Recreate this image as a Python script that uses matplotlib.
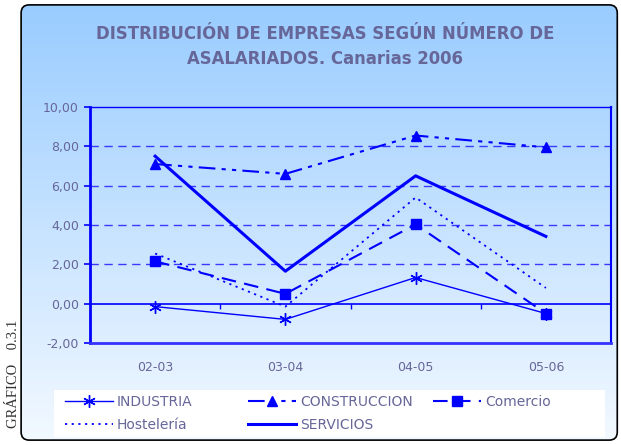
import numpy as np
import matplotlib
matplotlib.use("Agg")
import matplotlib.pyplot as plt
from matplotlib.patches import FancyBboxPatch, Rectangle
from matplotlib.ticker import FuncFormatter

periodos = ["02-03", "03-04", "04-05", "05-06"]
industria = [-0.15, -0.8, 1.33, -0.5]
construccion = [7.1, 6.6, 8.55, 7.95]
comercio = [2.15, 0.5, 4.03, -0.5]
hosteleria = [2.55, -0.15, 5.4, 0.8]
servicios = [7.5, 1.65, 6.5, 3.42]
yticks = [-2, 0, 2, 4, 6, 8, 10]

azul = "#0000ff"
gris = "#666699"

fig = plt.figure(figsize=(6.21, 4.45), dpi=100, facecolor="white")

# fondo con degradado dentro de un marco redondeado
bg = fig.add_axes([0, 0, 1, 1], zorder=0)
bg.set_axis_off()
bg.set_xlim(0, 1)
bg.set_ylim(0, 1)
top = np.array([0.60, 0.80, 1.0])
bot = np.array([0.95, 0.975, 1.0])
t = np.linspace(0, 1, 256)[:, None]
grad = (top * (1 - t) + bot * t)[:, None, :]
img = bg.imshow(grad, extent=[0.034, 0.994, 0.011, 0.989], aspect="auto", origin="upper")
marco = FancyBboxPatch((0.034, 0.011), 0.96, 0.978,
                       boxstyle="round,pad=0,rounding_size=0.013",
                       mutation_aspect=621 / 445,
                       facecolor="none", edgecolor="black", linewidth=1.2)
bg.add_patch(marco)
img.set_clip_path(marco)

# caja blanca de la leyenda
bg.add_patch(Rectangle((54 / 621, 8 / 445), 551 / 621, 47 / 445,
                       facecolor="white", edgecolor="none"))

fig.text(0.523, 0.896, "DISTRIBUCIÓN DE EMPRESAS SEGÚN NÚMERO DE\nASALARIADOS. Canarias 2006",
         ha="center", va="center", fontsize=11.9, fontweight="bold", color=gris,
         linespacing=1.5)
fig.text(0.021, 0.16, "GRÁFICO    0.3.1", rotation=90, ha="center", va="center",
         fontsize=10.5, family="Liberation Serif", color="#333333")

ax = fig.add_axes([90 / 621, 102 / 445, 521 / 621, 236 / 445], zorder=2)
ax.set_facecolor("none")
x = np.arange(len(periodos))

l_ind, = ax.plot(x, industria, color=azul, lw=1.0, marker=(6, 2, 0), ms=9, mew=1.0)
l_con, = ax.plot(x, construccion, color=azul, lw=1.5, ls=(0, (8, 3, 2, 3, 2, 3)),
                 marker="^", ms=7)
l_com, = ax.plot(x, comercio, color=azul, lw=1.5, ls=(0, (7, 4)), marker="s", ms=6.5)
l_hos, = ax.plot(x, hosteleria, color=azul, lw=1.3, ls=(0, (1.2, 2.5)))
l_ser, = ax.plot(x, servicios, color=azul, lw=2.2)

ax.set_xlim(-0.5, len(periodos) - 0.5)
ax.set_ylim(min(yticks), max(yticks))
ax.set_yticks(yticks)
ax.yaxis.set_major_formatter(FuncFormatter(lambda v, p: f"{v:.2f}".replace(".", ",")))
ax.set_xticks(x)
ax.set_xticklabels(periodos)
ax.tick_params(axis="y", colors=azul, length=4, width=1.2, labelcolor=gris, labelsize=9, pad=4)
ax.tick_params(axis="x", length=0, labelcolor=gris, labelsize=9, pad=13)

for v in yticks[2:-1]:
    ax.axhline(v, color="#3a3aff", lw=1.0, ls=(0, (6, 4)), zorder=1)
ax.axhline(0, color=azul, lw=1.2, zorder=1)
ax.vlines(x + 0.5, -0.25, 0, color=azul, lw=1.0)

ax.spines["left"].set_color(azul)
ax.spines["left"].set_linewidth(2)
ax.spines["top"].set_color(azul)
ax.spines["top"].set_linewidth(1)
ax.spines["right"].set_color(azul)
ax.spines["right"].set_linewidth(1.5)
ax.spines["bottom"].set_color("#3333ff")
ax.spines["bottom"].set_linewidth(2)

# leyenda en tres columnas
grupos = [([l_ind, l_hos], ["INDUSTRIA", "Hostelería"], 65),
          ([l_con, l_ser], ["CONSTRUCCION", "SERVICIOS"], 248),
          ([l_com], ["Comercio"], 433)]
for hs, labs, xpx in grupos:
    leg = fig.legend(hs, labs, loc="upper left", bbox_to_anchor=(xpx / 621, 1 - 395 / 445),
                     bbox_transform=fig.transFigure, frameon=False, fontsize=10,
                     handlelength=3.45, handletextpad=0.3, labelspacing=0.63,
                     borderpad=0, borderaxespad=0, numpoints=1)
    for txt in leg.get_texts():
        txt.set_color(gris)

fig.savefig("out.png", dpi=100, facecolor="white")
